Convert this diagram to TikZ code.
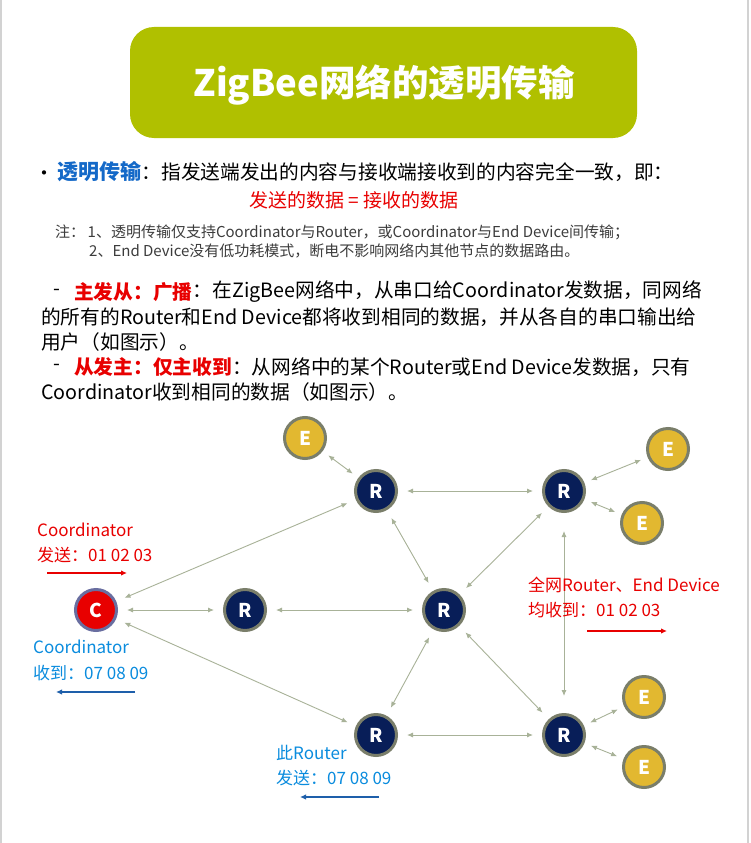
\documentclass[tikz,border=0pt]{standalone}
\usepackage{fontspec}
\setmainfont{Noto Sans CJK SC}
\usepackage{tikz}
\usetikzlibrary{arrows.meta, positioning, calc}
\usepackage{xcolor}
\definecolor{titlegreen}{RGB}{176,192,0}
\definecolor{headblue}{RGB}{20,105,200}
\definecolor{hotred}{RGB}{232,0,0}
\definecolor{notegray}{RGB}{60,60,60}
\definecolor{linkgray}{RGB}{168,178,152}
\definecolor{rimgray}{RGB}{122,126,106}
\definecolor{navy}{RGB}{8,30,88}
\definecolor{gold}{RGB}{226,184,48}
\definecolor{labelblue}{RGB}{10,140,222}
\definecolor{arrowblue}{RGB}{30,95,170}
\newcommand{\fsz}[1]{\fontsize{#1}{#1}\selectfont}

\begin{document}
\begin{tikzpicture}[x=1pt,y=-1pt,
  dev/.style={circle, draw=rimgray, line width=3pt, minimum size=41pt, inner sep=0pt, text=white, font=\fsz{19}\bfseries},
  rnode/.style={dev, fill=navy},
  enode/.style={dev, fill=gold},
  cnode/.style={dev, fill=hotred, draw={rgb,255:red,105;green,110;blue,160}},
  link/.style={draw=linkgray, line width=0.9pt, {Latex[length=6pt,width=5pt]}-{Latex[length=6pt,width=5pt]}, shorten <=9pt, shorten >=9pt},
  txt/.style={anchor=west, inner sep=0pt, font=\fsz{19.7}},
  lbl/.style={anchor=west, inner sep=0pt, font=\fsz{17}},
  tagarrow/.style={line width=2.4pt, -{Latex[length=6pt,width=5.5pt]}}]
  \useasboundingbox (0,0) rectangle (750,843);
  \fill[white] (0,0) rectangle (750,843);
  \draw[gray!35, line width=2pt] (1,0) -- (1,843);
  \draw[gray!35, line width=2pt] (748,0) -- (748,843);

  % title
  \fill[titlegreen, rounded corners=24pt] (130,27) rectangle (637,138);
  \node[text=white, font=\fsz{36.5}\bfseries] (title) at (384,85) {ZigBee网络的透明传输};

  % text block
  \node[inner sep=0pt, font=\fsz{20}] (dot) at (44,176) {·};
  \node[txt, text=headblue, font=\fsz{21}\bfseries] (head) at (57,172) {透明传输};
  \node[txt] (def) at (head.east) {：指发送端发出的内容与接收端接收到的内容完全一致，即：};
  \node[text=hotred, font=\fsz{19}] (equal) at (354,200) {发送的数据\ =\ 接收的数据};
  \node[txt, text=notegray, font=\fsz{15}] (note1) at (55,232) {注：\,1、透明传输仅支持Coordinator与Router，或Coordinator与End Device间传输；};
  \node[txt, text=notegray, font=\fsz{15}] (note2) at (89,251) {2、End Device没有低功耗模式，断电不影响网络内其他节点的数据路由。};

  \node[txt] (dashA) at (53,292) {-};
  \node[txt, text=hotred, font=\fsz{19.7}\bfseries] (bcast) at (74,292) {主发从：广播};
  \node[txt] (bcastA) at (bcast.east) {：在ZigBee网络中，从串口给Coordinator发数据，同网络};
  \node[txt] (bcastB) at (41,317) {的所有的Router和End Device都将收到相同的数据，并从各自的串口输出给};
  \node[txt] (bcastC) at (41,342) {用户（如图示）。};
  \node[txt] (dashB) at (53,367) {-};
  \node[txt, text=hotred, font=\fsz{19.7}\bfseries] (uni) at (74,367) {从发主：仅主收到};
  \node[txt] (uniA) at (uni.east) {：从网络中的某个Router或End Device发数据，只有};
  \node[txt] (uniB) at (41,392) {Coordinator收到相同的数据（如图示）。};

  % network
  \node[enode] (E1) at (305,438) {E};
  \node[rnode] (R1) at (376,491) {R};
  \node[rnode] (R2) at (564,491) {R};
  \node[enode] (E2) at (668,449) {E};
  \node[enode] (E3) at (642,523) {E};
  \node[cnode] (C) at (96,610) {C};
  \node[rnode] (R3) at (245,610) {R};
  \node[rnode] (R4) at (444,610) {R};
  \node[rnode] (R5) at (376,735) {R};
  \node[rnode] (R6) at (564,735) {R};
  \node[enode] (E4) at (644,697) {E};
  \node[enode] (E5) at (644,767) {E};

  \draw[link] (C) -- (R1);
  \draw[link] (C) -- (R3);
  \draw[link] (C) -- (R5);
  \draw[link] (R3) -- (R4);
  \draw[link] (R1) -- (R2);
  \draw[link] (R1) -- (R4);
  \draw[link] (R4) -- (R2);
  \draw[link] (R4) -- (R5);
  \draw[link] (R4) -- (R6);
  \draw[link] (R5) -- (R6);
  \draw[link, shorten <=18pt, shorten >=17pt] (R2) -- (R6);
  \draw[link, shorten <=7pt, shorten >=7pt] (E1) -- (R1);
  \draw[link, shorten <=7pt, shorten >=7pt] (R2) -- (E2);
  \draw[link, shorten <=7pt, shorten >=7pt] (R2) -- (E3);
  \draw[link, shorten <=7pt, shorten >=7pt] (R6) -- (E4);
  \draw[link, shorten <=7pt, shorten >=7pt] (R6) -- (E5);

  % send / receive tags
  \node[lbl, text=hotred] (sendC1) at (37,530) {Coordinator};
  \node[lbl, text=hotred] (sendC2) at (37,555) {发送：01 02 03};
  \coordinate (sendCa) at (47,573);
  \coordinate (sendCb) at (127,573);
  \draw[tagarrow, hotred] (sendCa) -- (sendCb);

  \node[lbl, text=hotred] (allR1) at (528,585) {全网Router、End Device};
  \node[lbl, text=hotred] (allR2) at (528,610) {均收到：01 02 03};
  \coordinate (allRa) at (587,631);
  \coordinate (allRb) at (667,631);
  \draw[tagarrow, hotred] (allRa) -- (allRb);

  \node[lbl, text=labelblue] (recC1) at (33,647) {Coordinator};
  \node[lbl, text=labelblue] (recC2) at (33,673) {收到：07 08 09};
  \coordinate (recCa) at (135,692);
  \coordinate (recCb) at (56,692);
  \draw[tagarrow, arrowblue] (recCa) -- (recCb);

  \node[lbl, text=labelblue] (thisR1) at (276,753) {此Router};
  \node[lbl, text=labelblue] (thisR2) at (276,778) {发送：07 08 09};
  \coordinate (thisRa) at (379,797);
  \coordinate (thisRb) at (300,797);
  \draw[tagarrow, arrowblue] (thisRa) -- (thisRb);
\end{tikzpicture}
\end{document}
